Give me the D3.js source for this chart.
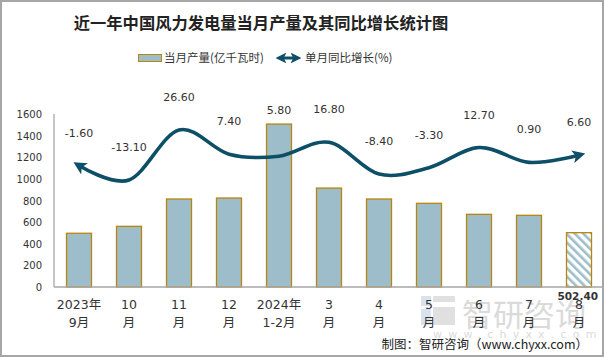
<!DOCTYPE html>
<html><head><meta charset="utf-8">
<script src="https://cdn.jsdelivr.net/npm/d3@7"></script>
<style>body{margin:0;background:#fff}svg{display:block}</style>
</head><body>
<svg id="c" width="604" height="357"></svg>
<script>
const categories = [["2023年","9月"],["10","月"],["11","月"],["12","月"],["2024年","1-2月"],["3","月"],["4","月"],["5","月"],["6","月"],["7","月"],["8","月"]];
const output = [497, 561, 814, 823, 1507, 915, 814, 774, 672, 663, 502.4];
const growth = [-1.6, -13.1, 26.6, 7.4, 5.8, 16.8, -8.4, -3.3, 12.7, 0.9, 6.6];
const yTicks = [0, 200, 400, 600, 800, 1000, 1200, 1400, 1600];
const title = "近一年中国风力发电量当月产量及其同比增长统计图";
const legendLabels = ["当月产量(亿千瓦时)", "单月同比增长(%)"];
const source = "制图：智研咨询（www.chyxx.com）";

const barFill = "#9EBDCA", barStroke = "#B8860B", lineColor = "#0C4F66", textColor = "#333";
const svg = d3.select("#c");
const W = 604, H = 357;
const plot = {left: 54, right: 604, top: 114, bottom: 287};

const defs = svg.append("defs");
const pat = defs.append("pattern").attr("id","hatch").attr("patternUnits","userSpaceOnUse")
  .attr("width",6).attr("height",6).attr("patternTransform","rotate(-45)");
pat.append("rect").attr("width",6).attr("height",6).attr("fill","#fff");
pat.append("rect").attr("width",2.6).attr("height",6).attr("fill",barFill);
function marker(id){
  defs.append("marker").attr("id",id).attr("viewBox","0 -5 10 10").attr("refX",5).attr("refY",0)
    .attr("markerWidth",3.6).attr("markerHeight",3.6).attr("markerUnits","strokeWidth")
    .attr("orient","auto-start-reverse")
    .append("path").attr("d","M0,-5 L10,0 L0,5 L2.5,0 Z").attr("fill",lineColor);
}
marker("arr");

svg.append("rect").attr("x",1).attr("y",1).attr("width",W-2).attr("height",H-2)
  .attr("fill","#fff").attr("stroke","#A6A6A6").attr("stroke-width",2);

const x = d3.scaleBand().domain(d3.range(categories.length)).range([plot.left, plot.right]).paddingInner(0.5).paddingOuter(0.25);
const y = d3.scaleLinear().domain([0,1600]).range([plot.bottom, plot.top]);
const y2 = d3.scaleLinear().domain([-13.1, 26.6]).range([180, 130]);

// watermark
const wm = svg.append("g").attr("opacity",0.55);
wm.append("rect").attr("x",421).attr("y",296).attr("width",10).attr("height",10).attr("fill","#b9cde0");
wm.append("rect").attr("x",433).attr("y",296).attr("width",22).attr("height",6).attr("fill","#c8c8c8");
wm.append("rect").attr("x",433).attr("y",307).attr("width",22).attr("height",18).attr("fill","#c8c8c8");
wm.append("rect").attr("x",421).attr("y",309).attr("width",10).attr("height",16).attr("fill","#b9cde0");
wm.append("text").attr("x",462).attr("y",326).attr("font-size",31).attr("fill","#bdbdbd")
  .attr("font-family","Noto Sans CJK SC").text("智研咨询");
wm.append("text").attr("x",433).attr("y",338).attr("font-size",11).attr("fill","#bdbdbd")
  .attr("letter-spacing","6.2px").attr("font-family","DejaVu Sans").text("www.chyxx.com");

// title
svg.append("text").attr("x",261).attr("y",29).attr("text-anchor","middle")
  .attr("font-family","Noto Sans CJK SC").attr("font-weight","bold").attr("font-size",16.3)
  .attr("fill","#222").text(title);

// legend
svg.append("rect").attr("x",138.5).attr("y",54.5).attr("width",23).attr("height",7)
  .attr("fill",barFill).attr("stroke",barStroke).attr("stroke-width",1);
svg.append("text").attr("x",164).attr("y",62).attr("font-size",11.5).attr("fill",textColor)
  .attr("font-family","Noto Sans CJK SC").text(legendLabels[0]);
svg.append("line").attr("x1",281).attr("x2",296).attr("y1",58).attr("y2",58)
  .attr("stroke",lineColor).attr("stroke-width",3).attr("marker-start","url(#arr)").attr("marker-end","url(#arr)");
svg.append("text").attr("x",305).attr("y",62).attr("font-size",11.5).attr("fill",textColor)
  .attr("font-family","Noto Sans CJK SC").text(legendLabels[1]);

// y axis labels
svg.append("g").selectAll("text").data(yTicks).join("text")
  .attr("x",42).attr("y",d=>y(d)+4).attr("text-anchor","end")
  .attr("font-family","DejaVu Sans").attr("font-size",10).attr("fill",textColor).text(d=>d);

// bars
svg.append("g").selectAll("rect").data(output).join("rect")
  .attr("x",(d,i)=>x(i)).attr("width",x.bandwidth())
  .attr("y",d=>y(d)).attr("height",d=>y(0)-y(d))
  .attr("fill",(d,i)=>i===output.length-1?"url(#hatch)":barFill)
  .attr("stroke",barStroke).attr("stroke-width",1.3);

// axes lines
svg.append("line").attr("x1",plot.left).attr("x2",plot.left).attr("y1",plot.top).attr("y2",plot.bottom)
  .attr("stroke","#A6A6A6").attr("stroke-width",1.3);
svg.append("line").attr("x1",plot.left).attr("x2",602).attr("y1",plot.bottom).attr("y2",plot.bottom)
  .attr("stroke","#A6A6A6").attr("stroke-width",1.3);

// category labels
const cx = i => x(i) + x.bandwidth()/2;
const cat = svg.append("g").attr("font-family","DejaVu Sans, Noto Sans CJK SC").attr("font-size",12.5).attr("fill",textColor).attr("text-anchor","middle");
categories.forEach((c,i)=>{
  cat.append("text").attr("x",cx(i)).attr("y",309).text(c[0]);
  cat.append("text").attr("x",cx(i)).attr("y",327).text(c[1]);
});

// line
const line = d3.line().x((d,i)=>cx(i)).y(d=>y2(d)).curve(d3.curveCatmullRom.alpha(0));
svg.append("path").datum(growth).attr("d",line).attr("fill","none")
  .attr("stroke",lineColor).attr("stroke-width",3.6)
  .attr("marker-start","url(#arr)").attr("marker-end","url(#arr)");

// growth labels
svg.append("g").selectAll("text").data(growth).join("text")
  .attr("x",(d,i)=>cx(i)).attr("y",(d,i)=>Math.min(y2(d)-33, y(output[i])-14)+4)
  .attr("text-anchor","middle").attr("font-family","DejaVu Sans").attr("font-size",11)
  .attr("fill",textColor).text(d=>d.toFixed(2));

// last bar value label
const li = output.length-1;
svg.append("text").attr("x",598).attr("y",y(0)+13).attr("text-anchor","end")
  .attr("font-family","DejaVu Sans").attr("font-weight","bold").attr("font-size",10.5)
  .attr("fill",textColor).text(output[li].toFixed(2));

// source
svg.append("text").attr("x",588).attr("y",349).attr("text-anchor","end")
  .attr("font-family","Noto Sans CJK SC").attr("font-size",12.5).attr("fill","#222").text(source);
</script>
</body></html>
